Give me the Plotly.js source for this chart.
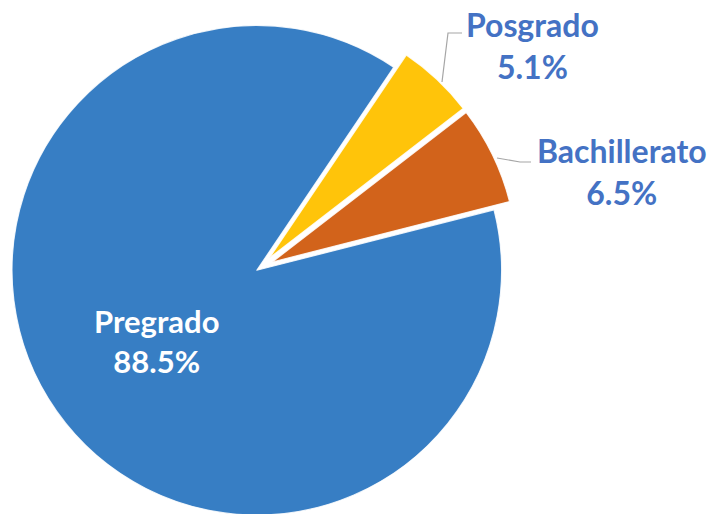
<!DOCTYPE html>
<html>
<head>
<meta charset="utf-8">
<script src="https://cdn.plot.ly/plotly-3.0.1.min.js"></script>
<style>
html,body{margin:0;padding:0;overflow:hidden;background:#fff;}
#chart{width:713px;height:536px;}
</style>
</head>
<body>
<div id="chart"></div>
<script>
const categories = ['Posgrado', 'Bachillerato', 'Pregrado'];
const values = [5.1, 6.5, 88.5];
const sliceColors = ['#FFC40A', '#D2631B', '#377EC4'];
const pulls = [0.056, 0.056, 0.016];

const W = 713, H = 536;
const px = x => x / W;
const py = y => 1 - y / H;

const labelFont = {family: 'Lato, "Open Sans", sans-serif', size: 32, color: '#4472C4', weight: 'bold'};

const trace = {
  type: 'pie',
  labels: categories,
  values: values,
  sort: false,
  direction: 'clockwise',
  rotation: 34,
  pull: pulls,
  marker: {colors: sliceColors, line: {color: 'rgba(255,255,255,0.85)', width: 1.2}},
  texttemplate: categories.map((c, i) => i === 2 ? '%{label}<br>%{value:.1f}%' : ''),
  textposition: 'inside',
  insidetextorientation: 'horizontal',
  textfont: {family: 'Lato, "Open Sans", sans-serif', size: 31, color: '#FFFFFF', weight: 'bold'},
  hoverinfo: 'none',
  showlegend: false,
  domain: {x: [1.5 / W, 518.5 / W], y: [1 - 526.5 / H, 1 - 9.5 / H]}
};

const annotations = [
  {x: px(532), y: py(46), text: categories[0] + '<br>' + values[0].toFixed(1) + '%'},
  {x: px(622), y: py(171), text: categories[1] + '<br>' + values[1].toFixed(1) + '%'}
].map(a => Object.assign({xref: 'paper', yref: 'paper', showarrow: false, xanchor: 'center', yanchor: 'middle', align: 'center', font: labelFont}, a));

const leaderPaths = [
  [[462, 33], [448, 33], [442, 82]],
  [[531, 162], [520, 162], [497, 158]]
];
const shapes = leaderPaths.map(pts => ({
  type: 'path', xref: 'paper', yref: 'paper',
  path: pts.map((p, i) => (i ? 'L' : 'M') + px(p[0]) + ',' + py(p[1])).join(' '),
  line: {color: '#A6A6A6', width: 1.2}
}));

Plotly.newPlot('chart', [trace], {
  width: W, height: H,
  margin: {l: 0, r: 0, t: 0, b: 0},
  paper_bgcolor: '#FFFFFF',
  annotations: annotations,
  shapes: shapes
}, {displayModeBar: false, staticPlot: true});
</script>
</body>
</html>
